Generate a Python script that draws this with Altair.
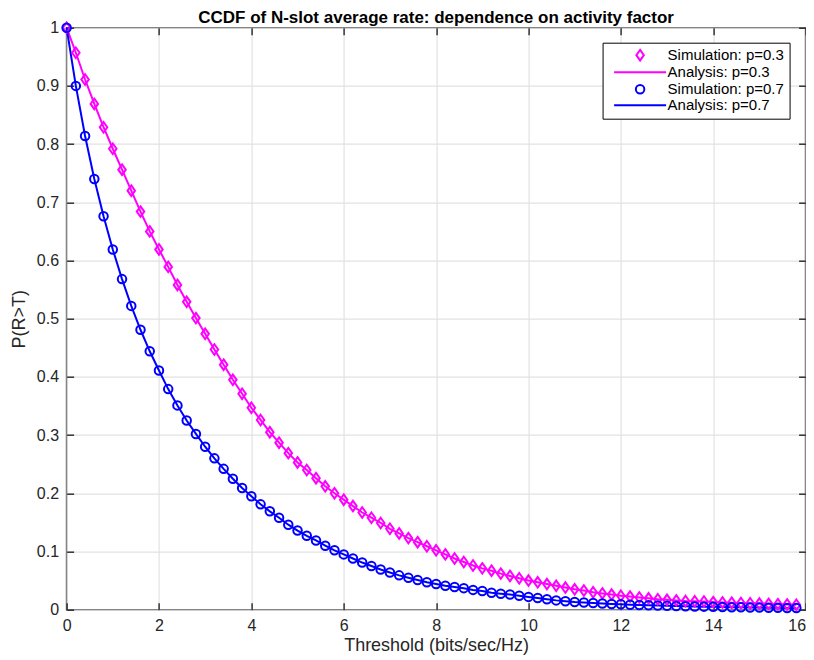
import altair as alt
import pandas as pd

# ---------------- data ----------------
thresholds = [0.0, 0.2, 0.4, 0.6, 0.8, 1.0, 1.2, 1.4, 1.6, 1.8,
              2.0, 2.2, 2.4, 2.6, 2.8, 3.0, 3.2, 3.4, 3.6, 3.8,
              4.0, 4.2, 4.4, 4.6, 4.8, 5.0, 5.2, 5.4, 5.6, 5.8,
              6.0, 6.2, 6.4, 6.6, 6.8, 7.0, 7.2, 7.4, 7.6, 7.8,
              8.0, 8.2, 8.4, 8.6, 8.8, 9.0, 9.2, 9.4, 9.6, 9.8,
              10.0, 10.2, 10.4, 10.6, 10.8, 11.0, 11.2, 11.4, 11.6, 11.8,
              12.0, 12.2, 12.4, 12.6, 12.8, 13.0, 13.2, 13.4, 13.6, 13.8,
              14.0, 14.2, 14.4, 14.6, 14.8, 15.0, 15.2, 15.4, 15.6, 15.8]

sim_p03 = [1.000, 0.957, 0.911, 0.869, 0.829, 0.792, 0.756, 0.720, 0.684, 0.650,
           0.619, 0.589, 0.558, 0.529, 0.501, 0.474, 0.447, 0.421, 0.395, 0.371,
           0.347, 0.326, 0.305, 0.287, 0.269, 0.253, 0.240, 0.226, 0.212, 0.200,
           0.189, 0.178, 0.167, 0.158, 0.149, 0.139, 0.131, 0.123, 0.116, 0.109,
           0.102, 0.095, 0.088, 0.082, 0.076, 0.071, 0.067, 0.062, 0.058, 0.054,
           0.050, 0.047, 0.044, 0.041, 0.038, 0.035, 0.033, 0.030, 0.028, 0.026,
           0.024, 0.0225, 0.021, 0.0195, 0.018, 0.017, 0.016, 0.015, 0.0145, 0.014,
           0.013, 0.0125, 0.012, 0.0115, 0.011, 0.0105, 0.010, 0.0095, 0.009, 0.0085]

sim_p07 = [1.000, 0.900, 0.814, 0.740, 0.676, 0.619, 0.568, 0.522, 0.481, 0.444,
           0.411, 0.379, 0.351, 0.325, 0.302, 0.280, 0.260, 0.242, 0.225, 0.209,
           0.195, 0.181, 0.169, 0.158, 0.146, 0.136, 0.127, 0.119, 0.110, 0.102,
           0.095, 0.088, 0.081, 0.075, 0.069, 0.064, 0.059, 0.055, 0.051, 0.047,
           0.044, 0.041, 0.039, 0.037, 0.034, 0.032, 0.029, 0.0275, 0.026, 0.024,
           0.022, 0.020, 0.018, 0.016, 0.0145, 0.0133, 0.0125, 0.0115, 0.0105, 0.0098,
           0.0092, 0.0086, 0.0081, 0.0076, 0.0071, 0.0066, 0.0062, 0.0058, 0.0055, 0.0052,
           0.0049, 0.0046, 0.0043, 0.0041, 0.0038, 0.0036, 0.0034, 0.0032, 0.0030, 0.0028]

ana_p03 = list(sim_p03)
ana_p07 = list(sim_p07)

x_ticks = [0, 2, 4, 6, 8, 10, 12, 14, 16]
y_ticks = [0, 0.1, 0.2, 0.3, 0.4, 0.5, 0.6, 0.7, 0.8, 0.9, 1]

series_labels = ["Simulation: p=0.3", "Analysis: p=0.3",
                 "Simulation: p=0.7", "Analysis: p=0.7"]
series_colors = ["#ff00ff", "#ff00ff", "#0000ff", "#0000ff"]

DIAMOND = "M0,-1.05L0.75,0L0,1.05L-0.75,0Z"
CIRCLE = "M-0.85,0A0.85,0.85,0,1,1,0.85,0A0.85,0.85,0,1,1,-0.85,0Z"
LINE = "M-5.2,0L5.2,0"
series_shapes = [DIAMOND, LINE, CIRCLE, LINE]

FONT = "Liberation Sans"
AX = "#262626"
W, H = 739, 582

# ---------------- tables ----------------
n = len(thresholds)
sim_df = pd.DataFrame({
    "T": thresholds + thresholds,
    "P": sim_p03 + sim_p07,
    "series": [series_labels[0]] * n + [series_labels[2]] * n,
})
ana03_df = pd.DataFrame({"T": thresholds, "P": ana_p03})
ana07_df = pd.DataFrame({"T": thresholds, "P": ana_p07})

xs = alt.Scale(domain=[0, 16], nice=False, zero=False)
ys = alt.Scale(domain=[0, 1], nice=False)

main_x = alt.Axis(orient="bottom", values=x_ticks, format="d", grid=True,
                  ticks=False, domain=False, labelPadding=8, labelFlush=False,
                  labelAlign={"condition": {"test": "datum.value >= 16",
                                            "value": "right"},
                              "value": "center"},
                  titlePadding=3)
main_y = alt.Axis(orient="left", values=y_ticks, format="~g", grid=True,
                  ticks=False, domain=False, labelPadding=8, labelFlush=False,
                  titlePadding=8)

def tick_axis(orient, off, vals):
    return alt.Axis(orient=orient, offset=off, values=vals, labels=False,
                    grid=False, domain=False, ticks=True, tickSize=7,
                    minExtent=0, maxExtent=0)

line03 = alt.Chart(ana03_df).mark_line(color="#ff00ff", strokeWidth=2).encode(
    x=alt.X("T:Q", scale=xs, axis=main_x, title="Threshold (bits/sec/Hz)"),
    y=alt.Y("P:Q", scale=ys, axis=main_y, title="P(R>T)"),
)

line07 = alt.Chart(ana07_df).mark_line(color="#0000ff", strokeWidth=2).encode(
    x=alt.X("T:Q", scale=xs, axis=tick_axis("top", -H, x_ticks), title=None),
    y=alt.Y("P:Q", scale=ys, axis=tick_axis("right", -W, y_ticks), title=None),
)

legend = alt.Legend(title=None, orient="none", legendX=536, legendY=15,
                    direction="vertical", labelFont=FONT, labelFontSize=15,
                    labelColor="black", symbolSize=100, symbolStrokeWidth=2,
                    symbolOffset=25, labelOffset=20, padding=5, rowPadding=0,
                    strokeColor="black", fillColor="white", cornerRadius=0)

points = alt.Chart(sim_df).mark_point(filled=False, size=100, strokeWidth=2,
                                      opacity=1).encode(
    x=alt.X("T:Q", scale=xs, axis=tick_axis("bottom", -H, x_ticks), title=None),
    y=alt.Y("P:Q", scale=ys, axis=tick_axis("left", -W, y_ticks), title=None),
    color=alt.Color("series:N",
                    scale=alt.Scale(domain=series_labels, range=series_colors),
                    legend=legend),
    shape=alt.Shape("series:N",
                    scale=alt.Scale(domain=series_labels, range=series_shapes),
                    legend=legend),
)

chart = alt.layer(line03, line07, points).resolve_axis(
    x="independent", y="independent"
).properties(
    width=W, height=H,
    title=alt.TitleParams("CCDF of N-slot average rate: dependence on activity factor",
                          font=FONT, fontSize=17, fontWeight="bold", color="black",
                          anchor="middle", offset=0.5, dy=9),
    padding={"left": 58.6, "top": 19.7, "right": 0, "bottom": 50},
    autosize=alt.AutoSizeParams(type="none"),
    background="white",
).configure_view(
    stroke=AX, strokeWidth=1.5
).configure_axis(
    labelFont=FONT, labelFontSize=16, labelColor=AX,
    titleFont=FONT, titleFontSize=18, titleFontWeight="normal", titleColor=AX,
    gridColor="#e2e2e2", gridWidth=1.2,
    tickColor=AX, tickWidth=1.4,
)

chart.save("out.html", embed_options={"renderer": "svg", "actions": False})
